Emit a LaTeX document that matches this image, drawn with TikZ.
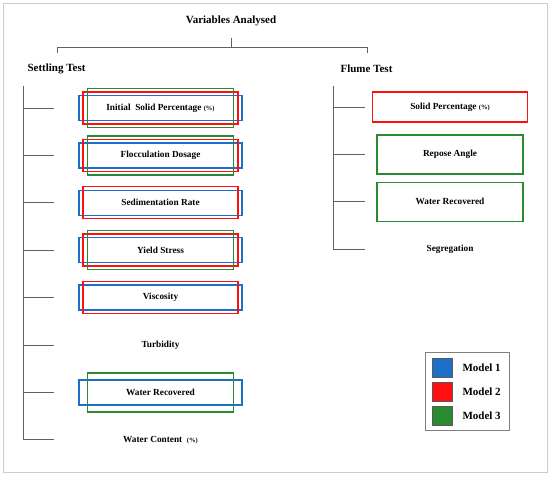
\documentclass[tikz,border=0pt]{standalone}
\usepackage{fontspec}
\setmainfont{Liberation Serif}
\usepackage{xcolor}
\usepackage{tikz}
\usetikzlibrary{positioning}
\definecolor{mOne}{HTML}{1C70C8}
\definecolor{mTwo}{HTML}{FF1010}
\definecolor{mThree}{HTML}{2A8A2F}
\definecolor{lineGray}{gray}{0.38}
\definecolor{frameGray}{gray}{0.80}
\definecolor{legGray}{gray}{0.50}
\tikzset{
  head/.style={font=\fontsize{11}{13}\selectfont\bfseries, inner sep=1pt},
  item/.style={font=\fontsize{9.3}{11}\selectfont\bfseries, minimum height=20pt, inner sep=1pt},
  tree/.style={draw=lineGray, line width=0.9pt},
  mOneBox/.style={draw=mOne, line width=1.4pt, minimum width=163pt, minimum height=25pt},
  mTwoBox/.style={draw=mTwo, line width=1.4pt, minimum width=155pt, minimum height=32pt},
  mThreeBox/.style={draw=mThree, line width=1.4pt, minimum width=146pt, minimum height=39pt},
  swatch/.style={draw=black!65, line width=0.6pt, minimum width=20pt, minimum height=19pt},
  legtext/.style={font=\fontsize{11}{13}\selectfont\bfseries, inner sep=0pt}
}
\newcommand{\pct}{{\fontsize{6.5}{8}\selectfont(\%)}}

\begin{document}
\begin{tikzpicture}[x=1pt, y=-1pt, node distance=27pt]
  \useasboundingbox (0,0) rectangle (550,478);
  \draw[frameGray, line width=1pt] (3,4) rectangle (547,473);
  % headings
  \node[head] (root) at (231,21) {Variables Analysed};
  \node[head] (set) at (56.5,69) {Settling Test};
  \node[head] (flu) at (366.5,69) {Flume Test};
  \coordinate (rootTop) at (231,38);
  \coordinate (rootBar) at (231,47);
  \coordinate (setBar) at (57,47);
  \coordinate (fluBar) at (367,47);
  \coordinate (setDrop) at (57,53);
  \coordinate (fluDrop) at (367,53);
  \draw[tree] (rootTop) -- (rootBar);
  \draw[tree] (setDrop) -- (setBar) -- (fluBar) -- (fluDrop);
  % settling test variables
  \node[item] (i1) at (160.5,108) {Initial\ \ Solid Percentage \pct};
  \node[item, below=of i1] (i2) {Flocculation Dosage};
  \node[item, below=of i2] (i3) {Sedimentation Rate};
  \node[item, below=of i3] (i4) {Yield Stress};
  \node[item, below=of i4] (i5) {Viscosity};
  \node[item, below=of i5] (i6) {Turbidity};
  \node[item, below=of i6] (i7) {Water Recovered};
  \node[item, below=of i7] (i8) {Water Content\ \ \pct};
  % flume test variables
  \node[item] (f1) at (450,107) {Solid Percentage \pct};
  \node[item, below=of f1] (f2) {Repose Angle};
  \node[item, below=of f2] (f3) {Water Recovered};
  \node[item, below=of f3] (f4) {Segregation};
  % model frames
  \node[mOneBox] (i1b) at (i1) {};
  \node[mTwoBox] (i1r) at (i1) {};
  \node[mThreeBox] (i1g) at (i1) {};
  \node[mOneBox] (i2b) at (i2) {};
  \node[mTwoBox] (i2r) at (i2) {};
  \node[mThreeBox] (i2g) at (i2) {};
  \node[mOneBox] (i3b) at (i3) {};
  \node[mTwoBox] (i3r) at (i3) {};
  \node[mOneBox] (i4b) at (i4) {};
  \node[mTwoBox] (i4r) at (i4) {};
  \node[mThreeBox] (i4g) at (i4) {};
  \node[mOneBox] (i5b) at (i5) {};
  \node[mTwoBox] (i5r) at (i5) {};
  \node[mOneBox] (i7b) at (i7) {};
  \node[mThreeBox] (i7g) at (i7) {};
  \node[mTwoBox, minimum height=30pt] (f1r) at (f1) {};
  \node[mThreeBox] (f2g) at (f2) {};
  \node[mThreeBox] (f3g) at (f3) {};
  % tree lines
  \coordinate (sTop) at (23.5,86);
  \coordinate (sEnd) at (54,86);
  \coordinate (fTop) at (333,86);
  \coordinate (fEnd) at (365,86);
  \draw[tree] (sTop) -- (sTop |- i8);
  \draw[tree] (fTop) -- (fTop |- f4);
  \foreach \k in {1,...,8}
    \draw[tree] (sTop |- i\k) -- (sEnd |- i\k);
  \foreach \k in {1,...,4}
    \draw[tree] (fTop |- f\k) -- (fEnd |- f\k);
  % legend
  \node[draw=legGray, line width=0.8pt, minimum width=84pt, minimum height=78pt] (leg) at (467,391) {};
  \node[swatch, fill=mOne] (s1) at (442,367.5) {};
  \node[swatch, fill=mTwo, below=4.5pt of s1] (s2) {};
  \node[swatch, fill=mThree, below=4.5pt of s2] (s3) {};
  \node[legtext, right=10pt of s1] (l1) {Model 1};
  \node[legtext, right=10pt of s2] (l2) {Model 2};
  \node[legtext, right=10pt of s3] (l3) {Model 3};
\end{tikzpicture}
\end{document}
